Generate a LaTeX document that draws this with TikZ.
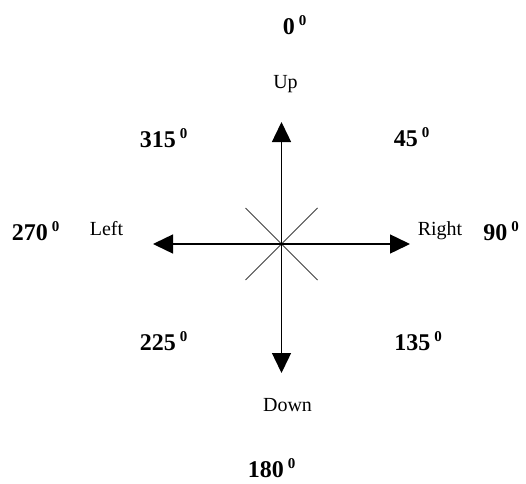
\documentclass[tikz,border=0pt]{standalone}
\usepackage{fontspec}
\setmainfont{Liberation Serif}
\usetikzlibrary{arrows.meta}
\newcommand{\anglab}[1]{{\fontsize{24}{24}\selectfont\bfseries #1}\hspace{4pt}\raisebox{9pt}{\fontsize{15}{15}\selectfont\bfseries 0}}
\tikzset{
  axisarrow/.style={line width=1.4pt, -{Triangle[length=20pt,width=19pt]}},
  diagline/.style={line width=0.8pt, black!75},
  anglabel/.style={inner sep=0pt, anchor=base},
  dirlabel/.style={inner sep=0pt, anchor=base, font=\fontsize{20}{20}\selectfont},
}
\begin{document}
\begin{tikzpicture}[x=1pt,y=1pt]
\useasboundingbox (0,0) rectangle (526,483);
\coordinate (c) at (281.5,239);
\coordinate (tu) at (281.5,361);
\coordinate (td) at (281.5,110);
\coordinate (tl) at (153,239);
\coordinate (tr) at (410,239);
\coordinate (d1) at (245.5,275);
\coordinate (d2) at (317.5,203);
\coordinate (d3) at (317.5,275);
\coordinate (d4) at (245.5,203);
\draw[diagline] (d1) -- (d2);
\draw[diagline] (d3) -- (d4);
\draw[axisarrow] (c) -- (tu);
\draw[axisarrow] (c) -- (td);
\draw[axisarrow] (c) -- (tl);
\draw[axisarrow] (c) -- (tr);
\node[anglabel] (a0) at (294.5,448) {\anglab{0}};
\node[anglabel] (a315) at (163.5,336) {\anglab{315}};
\node[anglabel] (a45) at (411.5,337) {\anglab{45}};
\node[anglabel] (a270) at (35.5,243) {\anglab{270}};
\node[anglabel] (a90) at (501,243) {\anglab{90}};
\node[anglabel] (a225) at (163.5,133) {\anglab{225}};
\node[anglabel] (a135) at (418,133) {\anglab{135}};
\node[anglabel] (a180) at (271.5,6) {\anglab{180}};
\node[dirlabel] (up) at (285.5,395) {Up};
\node[dirlabel] (left) at (106.5,248) {Left};
\node[dirlabel] (right) at (440,248) {Right};
\node[dirlabel] (down) at (287.5,72) {Down};
\end{tikzpicture}
\end{document}
